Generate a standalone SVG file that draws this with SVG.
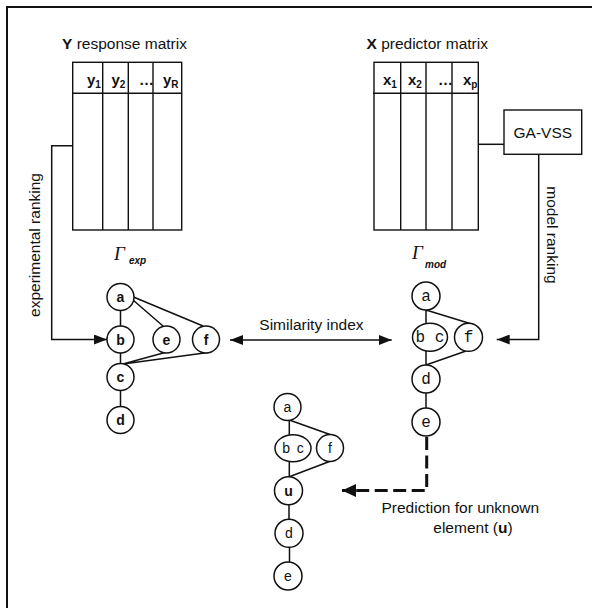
<svg xmlns="http://www.w3.org/2000/svg" width="592" height="608" viewBox="0 0 592 608">
  <style>
    .frame { fill: none; stroke: #111; stroke-width: 2; }
    .box { fill: #fff; stroke: #111; stroke-width: 1.4; }
    .grid { fill: none; stroke: #111; stroke-width: 1.4; }
    .edge { fill: none; stroke: #111; stroke-width: 1.5; }
    .node { fill: #fff; stroke: #111; stroke-width: 1.5; }
    .conn { fill: none; stroke: #111; stroke-width: 1.5; }
    .dash { fill: none; stroke: #111; stroke-width: 3; stroke-dasharray: 13 5.5; }
    .lbl { font-family: "Liberation Sans", Arial, sans-serif; font-size: 15.5px; fill: #111; }
    .hdr { font-family: "Liberation Sans", Arial, sans-serif; font-size: 15px; font-weight: bold; fill: #111; }
    .sub { font-size: 10px; }
    .nb { font-family: "Liberation Sans", Arial, sans-serif; font-size: 14px; font-weight: bold; fill: #111; text-anchor: middle; }
    .nm { font-family: "Liberation Mono", "Courier New", monospace; font-size: 16px; fill: #111; text-anchor: middle; }
    .ns { font-family: "Liberation Sans", Arial, sans-serif; font-size: 14px; fill: #111; text-anchor: middle; }
    .gam { font-family: "Liberation Serif", "Times New Roman", serif; font-style: italic; font-size: 19px; fill: #111; }
    .gsub { font-family: "Liberation Sans", Arial, sans-serif; font-style: italic; font-weight: bold; font-size: 10px; fill: #111; }
  </style>
  <defs>
    <marker id="head" markerUnits="userSpaceOnUse" markerWidth="13" markerHeight="10" refX="13" refY="5" orient="auto-start-reverse">
      <path d="M0,0 L13,5 L0,10 z" fill="#111" stroke="none"/>
    </marker>
    <marker id="headBig" markerUnits="userSpaceOnUse" markerWidth="14" markerHeight="13" refX="14" refY="6.5" orient="auto">
      <path d="M0,0 L14,6.5 L0,13 z" fill="#111" stroke="none"/>
    </marker>
  </defs>

  <!-- outer frame (top and left edges) -->
  <path class="frame" d="M7,612 V7 H600"/>

  <!-- Y response matrix -->
  <g id="y-matrix">
    <text class="lbl" x="62" y="49"><tspan font-weight="bold">Y</tspan> response matrix</text>
    <rect class="box" x="72.7" y="62.3" width="109" height="167.7"/>
    <path class="grid" d="M72.7,93.3 H181.7 M102.7,62.3 V230 M128.3,62.3 V230 M153,62.3 V230"/>
    <text class="hdr" x="87" y="85">y<tspan class="sub" dy="3">1</tspan></text>
    <text class="hdr" x="111.5" y="85">y<tspan class="sub" dy="3">2</tspan></text>
    <text class="hdr" x="139" y="85" font-weight="normal">…</text>
    <text class="hdr" x="163" y="85">y<tspan class="sub" dy="3">R</tspan></text>
  </g>

  <!-- X predictor matrix -->
  <g id="x-matrix">
    <text class="lbl" x="366.5" y="49"><tspan font-weight="bold">X</tspan> predictor matrix</text>
    <rect class="box" x="374" y="62.3" width="104.3" height="167.7"/>
    <path class="grid" d="M373,93.3 H478.3 M400.7,62.3 V230 M426,62.3 V230 M452,62.3 V230"/>
    <text class="hdr" x="383" y="85">x<tspan class="sub" dy="3">1</tspan></text>
    <text class="hdr" x="408" y="85">x<tspan class="sub" dy="3">2</tspan></text>
    <text class="hdr" x="438" y="85" font-weight="normal">…</text>
    <text class="hdr" x="463" y="85">x<tspan class="sub" dy="3">p</tspan></text>
  </g>

  <!-- GA-VSS box -->
  <g id="ga-vss">
    <rect class="box" x="504" y="110" width="77.7" height="44.3"/>
    <text class="lbl" x="542.8" y="138" text-anchor="middle">GA-VSS</text>
  </g>

  <!-- experimental ranking graph -->
  <g id="graph-exp">
    <text class="gam" x="114" y="260">Γ</text>
    <text class="gsub" x="129" y="264">exp</text>
    <path class="edge" d="M120.5,310 V326 M120.5,353 V363.5 M120.5,390.5 V406.5
                          M133,300 L163,326 M133.5,297 L203,326
                          M123,364 L165,352.5 M123,364 L208,352.5"/>
    <circle class="node" cx="120.5" cy="297" r="13.5"/>
    <circle class="node" cx="120.5" cy="339.5" r="13.5"/>
    <circle class="node" cx="166.5" cy="339.5" r="13.5"/>
    <circle class="node" cx="206" cy="339.5" r="13.5"/>
    <circle class="node" cx="120.5" cy="377" r="13.5"/>
    <circle class="node" cx="120.5" cy="420" r="13.5"/>
    <text class="nb" x="120.5" y="302">a</text>
    <text class="nb" x="120.5" y="344.5">b</text>
    <text class="nb" x="166.5" y="344.5">e</text>
    <text class="nb" x="206" y="344.5">f</text>
    <text class="nb" x="120.5" y="382">c</text>
    <text class="nb" x="120.5" y="425">d</text>
  </g>

  <!-- model ranking graph -->
  <g id="graph-mod">
    <text class="gam" x="412" y="259">Γ</text>
    <text class="gsub" x="425" y="268">mod</text>
    <path class="edge" d="M426,310 V323.5 M426,351 V365 M426,393 V408
                          M426,310 L470,323.5 M426,365 L466,351"/>
    <circle class="node" cx="426" cy="296" r="14"/>
    <ellipse class="node" cx="430" cy="337.3" rx="17.5" ry="14"/>
    <circle class="node" cx="468.5" cy="337.3" r="14"/>
    <circle class="node" cx="426" cy="379" r="14"/>
    <circle class="node" cx="426" cy="422" r="14"/>
    <text class="nm" x="426" y="301">a</text>
    <text class="nm" x="430" y="342">b c</text>
    <text class="nm" x="468.5" y="342">f</text>
    <text class="nm" x="426" y="384">d</text>
    <text class="nm" x="426" y="427">e</text>
  </g>

  <!-- predicted ranking graph -->
  <g id="graph-pred">
    <path class="edge" d="M289.3,420 V435 M289.3,461.5 V477 M289,504.5 V519.5 M289.5,547 V562
                          M289.3,420 L330,434.5 M289.3,476.7 L329.5,461.5"/>
    <circle class="node" cx="287.5" cy="407" r="13.5"/>
    <ellipse class="node" cx="293" cy="448.3" rx="18" ry="13.5"/>
    <circle class="node" cx="330" cy="448" r="13.5"/>
    <circle class="node" cx="288.5" cy="490.7" r="14"/>
    <circle class="node" cx="289" cy="533.3" r="14"/>
    <circle class="node" cx="288" cy="576" r="14"/>
    <text class="ns" x="287.5" y="412">a</text>
    <text class="ns" x="293" y="453.3" word-spacing="3">b c</text>
    <text class="ns" x="330" y="453">f</text>
    <text class="ns" x="288.5" y="495.7" font-weight="bold">u</text>
    <text class="ns" x="289" y="538.3">d</text>
    <text class="ns" x="288" y="581">e</text>
  </g>

  <!-- connectors -->
  <g id="connectors">
    <path class="conn" d="M72.7,145.7 H51.7 V339.5 H107" marker-end="url(#head)"/>
    <path class="conn" d="M478.3,144.3 H504"/>
    <path class="conn" d="M538.7,154.3 V339.5 H496.7" marker-end="url(#head)"/>
    <path class="conn" d="M230,340 H391.7" marker-start="url(#head)" marker-end="url(#head)"/>
    <path class="dash" d="M426.7,437 V490.5 H342"/>
    <path d="M356,484 L342,490.5 L356,497 z" fill="#111"/>
  </g>

  <!-- connector labels -->
  <g id="labels">
    <text class="lbl" x="40" y="245" text-anchor="middle" transform="rotate(-90 40 245)">experimental ranking</text>
    <text class="lbl" x="547" y="235" text-anchor="middle" transform="rotate(90 547 235)">model ranking</text>
    <text class="lbl" x="259.3" y="330">Similarity index</text>
    <text class="lbl" x="381.5" y="513.3">Prediction for unknown</text>
    <text class="lbl" x="433.3" y="532.7">element (<tspan font-weight="bold">u</tspan>)</text>
  </g>
</svg>
